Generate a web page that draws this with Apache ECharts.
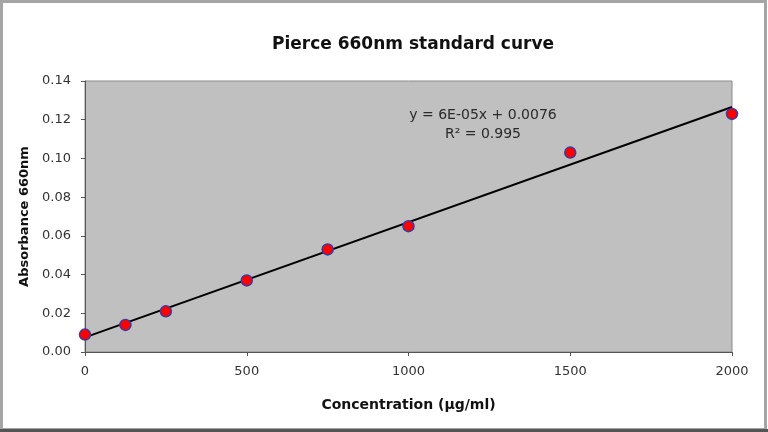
<!DOCTYPE html>
<html>
<head>
<meta charset="utf-8">
<script src="https://cdn.jsdelivr.net/npm/echarts@6/dist/echarts.min.js"></script>
<style>
  html, body { margin: 0; padding: 0; background: #fff; }
  #main { width: 768px; height: 432px; }
</style>
</head>
<body>
<div id="main"></div>
<script>
// concentrations (ug/ml) and absorbance at 660nm
var concentration = [0, 125, 250, 500, 750, 1000, 1500, 2000];
var absorbance = [0.009, 0.014, 0.021, 0.037, 0.053, 0.065, 0.103, 0.123];
var xTicks = [0, 500, 1000, 1500, 2000];

// linear trendline (least squares)
var n = concentration.length;
var mx = 0, my = 0;
for (var i = 0; i < n; i++) { mx += concentration[i]; my += absorbance[i]; }
mx /= n; my /= n;
var sxy = 0, sxx = 0;
for (var i = 0; i < n; i++) {
    sxy += (concentration[i] - mx) * (absorbance[i] - my);
    sxx += (concentration[i] - mx) * (concentration[i] - mx);
}
var slope = sxy / sxx;
var intercept = my - slope * mx;
var xMin = xTicks[0], xMax = xTicks[xTicks.length - 1];
var trend = [[xMin, intercept + slope * xMin], [xMax, intercept + slope * xMax]];

var points = concentration.map(function (c, i) { return [c, absorbance[i]]; });

var myChart = echarts.init(document.getElementById('main'));
var option = {
    animation: false,
    backgroundColor: '#fff',
    textStyle: { fontFamily: 'DejaVu Sans, sans-serif' },
    title: {
        text: 'Pierce 660nm standard curve',
        left: 408,
        top: 31,
        textAlign: 'center',
        textStyle: { fontSize: 17, fontWeight: 'bold', color: '#111', fontFamily: 'DejaVu Sans' }
    },
    graphic: [
        {
            type: 'rect',
            shape: { x: 1.5, y: 1.5, width: 764, height: 428 },
            style: { fill: null, stroke: '#a5a5a5', lineWidth: 3 },
            silent: true
        },
        {
            type: 'line',
            shape: { x1: 0, y1: 430.5, x2: 768, y2: 430.5 },
            style: { stroke: '#555', lineWidth: 3 },
            silent: true
        },
        {
            type: 'text',
            x: 483, y: 115,
            style: { text: 'y = 6E-05x + 0.0076', align: 'center', verticalAlign: 'middle',
                     font: '14px DejaVu Sans', fill: '#2a2a2a' }
        },
        {
            type: 'text',
            x: 483, y: 134,
            style: { text: 'R² = 0.995', align: 'center', verticalAlign: 'middle',
                     font: '14px DejaVu Sans', fill: '#2a2a2a' }
        }
    ],
    grid: {
        left: 85, top: 81, width: 647, height: 271,
        show: true,
        backgroundColor: '#c0c0c0',
        borderColor: '#8a8a8a',
        borderWidth: 1
    },
    xAxis: {
        type: 'value',
        min: 0, max: 2000, interval: 500,
        name: 'Concentration (µg/ml)',
        nameLocation: 'middle',
        nameGap: 46,
        nameTextStyle: { fontSize: 14, fontWeight: 'bold', color: '#111' },
        axisLine: { lineStyle: { color: '#555', width: 1 } },
        axisTick: { length: 4, lineStyle: { color: '#555' } },
        axisLabel: { fontSize: 13, color: '#333', margin: 13, formatter: function (v) { return String(v); } },
        splitLine: { show: false }
    },
    yAxis: {
        type: 'value',
        min: 0, max: 0.14, interval: 0.02,
        name: 'Absorbance 660nm',
        nameLocation: 'middle',
        nameGap: 46,
        nameTextStyle: { fontSize: 13, fontWeight: 'bold', color: '#111' },
        axisLine: { show: true, lineStyle: { color: '#555', width: 1 } },
        axisTick: { show: true, length: 4, lineStyle: { color: '#555' } },
        axisLabel: { fontSize: 13, color: '#333', margin: 14, formatter: function (v) { return v.toFixed(2); } },
        splitLine: { show: false }
    },
    series: [
        {
            name: 'Linear',
            type: 'line',
            data: trend,
            symbol: 'none',
            lineStyle: { color: '#000', width: 2 },
            z: 2
        },
        {
            name: 'Absorbance',
            type: 'scatter',
            data: points,
            symbolSize: 11,
            itemStyle: { color: '#ff0000', borderColor: '#3a3aa0', borderWidth: 1.5, opacity: 1 },
            z: 3
        }
    ]
};
myChart.setOption(option);
</script>
</body>
</html>
